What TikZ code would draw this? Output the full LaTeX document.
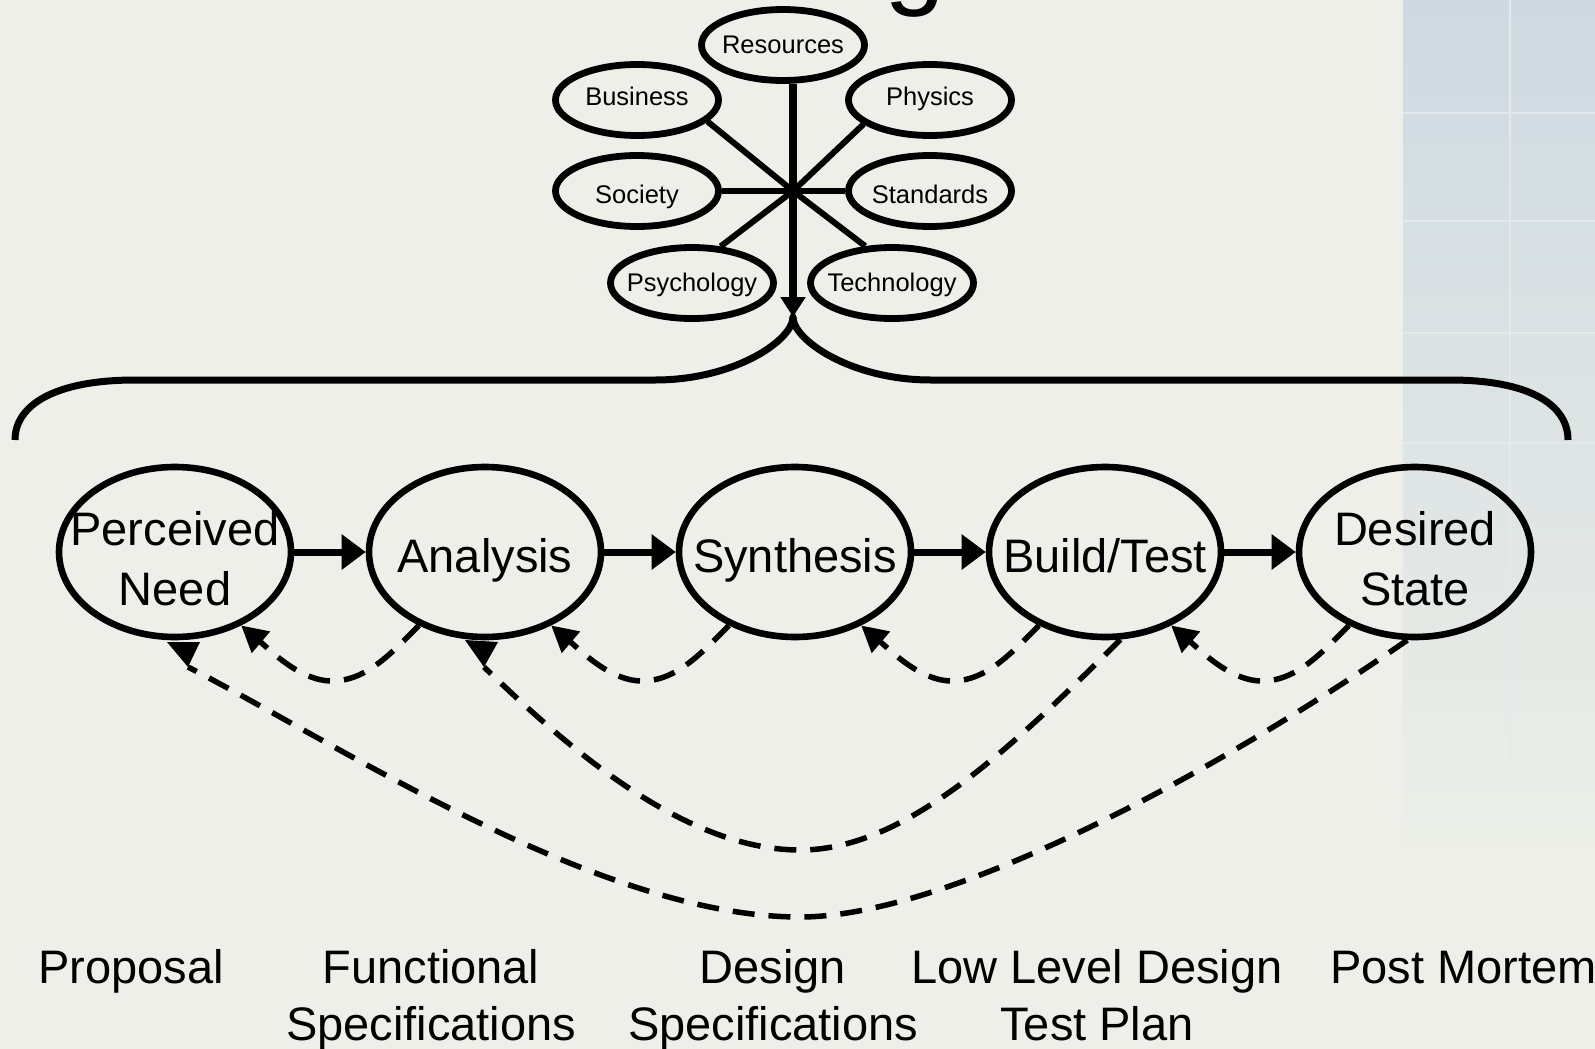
\documentclass[tikz,border=0pt]{standalone}
\usepackage{fontspec}
\setmainfont{Liberation Sans}
\usetikzlibrary{arrows.meta,shapes.geometric}
\definecolor{bg}{RGB}{237,239,232}
\definecolor{paneltop}{RGB}{206,217,225}
\definecolor{panelline}{RGB}{228,233,236}
\newcommand{\smalltxt}[2][0pt]{\makebox[0pt]{\raisebox{#1}{#2}}}
\newcommand{\bigone}[1]{\makebox[0pt]{\raisebox{-10pt}[0pt][0pt]{#1}}}
\newcommand{\bigtwo}[2]{\makebox[0pt]{\raisebox{-26.5pt}[0pt][0pt]{\begin{tabular}[b]{@{}c@{}}#1\\#2\end{tabular}}}}
\newcommand{\lbltwo}[2]{\begin{tabular}[t]{@{}c@{}}#1\\#2\end{tabular}}
\begin{document}
\begin{tikzpicture}[x=0.5pt,y=-0.5pt,
  small/.style={ellipse, draw=black, line width=3.4pt, minimum width=81.5pt, minimum height=35.5pt, inner sep=0pt, text height=9.5pt, text depth=1pt, font=\fontsize{12.75}{15}\selectfont},
  big/.style={ellipse, draw=black, line width=3.3pt, minimum width=116pt, minimum height=85pt, inner sep=0pt, font=\fontsize{23.5}{30}\selectfont},
  spoke/.style={line width=3pt},
  flow/.style={line width=3.5pt, -{Triangle[length=12pt,width=17pt]}},
  fb/.style={line width=2.75pt, dash pattern=on 11pt off 7pt, -{Triangle[length=13pt,width=13.5pt]}},
  fbl/.style={line width=2.75pt, dash pattern=on 11pt off 7pt},
  lbl/.style={inner sep=0pt, font=\fontsize{23.5}{28.5}\selectfont},
]
\useasboundingbox (0,0) rectangle (1595,1049);
\clip (0,0) rectangle (1595,1049);
% background
\fill[bg] (0,0) rectangle (1595,1049);
\shade[top color=paneltop, bottom color=bg] (1403,0) rectangle (1595,860);
\draw[panelline, line width=1pt] (1510,0) -- (1510,760);
\foreach \yy in {113,221,333,443}{\draw[panelline, line width=1pt] (1403,\yy) -- (1595,\yy);}
% title fragment
\node[font=\fontsize{55}{60}\selectfont, anchor=base, inner sep=0pt] (titleg) at (915,-5) {g};
% influence ellipses
\node[small] (res) at (783,45) {\smalltxt{Resources}};
\node[small] (bus) at (637,100) {\smalltxt[1.5pt]{Business}};
\node[small] (phy) at (930,100) {\smalltxt[1.5pt]{Physics}};
\node[small] (soc) at (637,191) {\smalltxt[-2pt]{Society}};
\node[small] (std) at (930,191) {\smalltxt[-2pt]{Standards}};
\node[small] (psy) at (692,283) {\smalltxt{Psychology}};
\node[small] (tec) at (892,283) {\smalltxt{Technology}};
\coordinate (hub) at (793,191);
\draw[spoke] (bus.-17) -- (hub);
\draw[spoke] (phy.200) -- (hub);
\draw[spoke] (soc.east) -- (hub);
\draw[spoke] (hub) -- (std.west);
\draw[spoke] (psy.52) -- (hub);
\draw[spoke] (tec.126) -- (hub);
\coordinate (btip) at (793,317);
\draw[line width=4pt, -{Triangle[length=10pt,width=12pt]}] (res.south -| hub) -- (btip);
% brace
\draw[line width=3.5pt, line join=round] (15,440) .. controls (15,405) and (55,380) .. (135,380) -- (655,380)
  .. controls (735,380) and (793,340) .. (btip)
  .. controls (793,340) and (851,380) .. (931,380) -- (1450,380)
  .. controls (1530,380) and (1568,405) .. (1568,440);
% process ellipses
\node[big] (pn) at (175,552) {\bigtwo{Perceived}{Need}};
\node[big] (an) at (485,552) {\bigone{Analysis}};
\node[big] (sy) at (795,552) {\bigone{Synthesis}};
\node[big] (bt) at (1105,552) {\bigone{Build/Test}};
\node[big] (ds) at (1415,552) {\bigtwo{Desired}{State}};
\draw[flow] (pn) -- (an);
\draw[flow] (an) -- (sy);
\draw[flow] (sy) -- (bt);
\draw[flow] (bt) -- (ds);
% short feedback
\draw[fb] (an.228) .. controls (390,655) and (365,681) .. (332,681) .. controls (300,681) and (270,650) .. (pn.-48);
\draw[fb] (sy.228) .. controls (700,655) and (675,681) .. (642,681) .. controls (610,681) and (580,650) .. (an.-48);
\draw[fb] (bt.228) .. controls (1010,655) and (985,681) .. (952,681) .. controls (920,681) and (890,650) .. (sy.-48);
\draw[fb] (ds.228) .. controls (1320,655) and (1295,681) .. (1262,681) .. controls (1230,681) and (1200,650) .. (bt.-48);
% long feedback
\coordinate (antip) at (484,667);
\coordinate (pntip) at (188,667);
\draw[fbl] (bt.-80) .. controls (1000,760) and (900,850) .. (800,850) .. controls (680,850) and (560,740) .. (antip);
\fill (antip) -- ++(-19,-27) -- ++(33,2) -- cycle;
\draw[fbl] (ds.-95) .. controls (1220,770) and (950,917) .. (800,917) .. controls (600,917) and (340,745) .. (pntip);
\fill (pntip) -- ++(-21,-25) -- ++(33,0) -- cycle;
% deliverables
\node[lbl, anchor=base] (l1) at (131,983) {Proposal};
\node[lbl, anchor=base] (l2) at (431,983) {\lbltwo{Functional}{Specifications}};
\node[lbl, anchor=base] (l3) at (773,983) {\lbltwo{Design}{Specifications}};
\node[lbl, anchor=base] (l4) at (1097,983) {\lbltwo{Low Level Design}{Test Plan}};
\node[lbl, anchor=base west] (l5) at (1330,983) {Post Mortem};
\end{tikzpicture}
\end{document}
